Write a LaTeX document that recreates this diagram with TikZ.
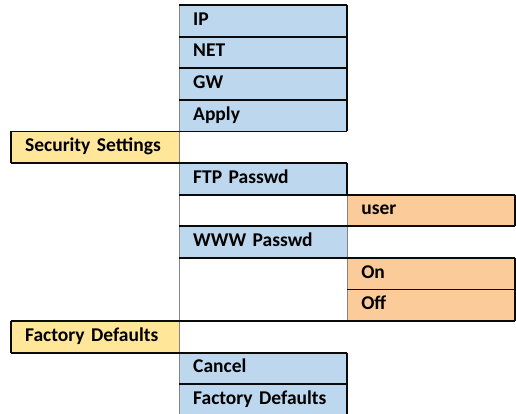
\documentclass[tikz,border=0pt]{standalone}
\usepackage{fontspec}
\setmainfont{Carlito}
\usetikzlibrary{positioning}
\definecolor{cellblue}{HTML}{BDD7EE}
\definecolor{cellyellow}{HTML}{FFE699}
\definecolor{cellorange}{HTML}{FCCB9A}
\definecolor{lineblack}{HTML}{0A0A0A}
\definecolor{linegrey}{HTML}{858585}
\tikzset{
  cell/.style = {minimum height=31.2pt, text width=139.7pt, inner xsep=14pt, inner ysep=0pt,
                 align=left, text height=13pt, text depth=4pt,
                 font=\fontsize{19.5}{21}\selectfont\bfseries},
  menu/.style = {cell, fill=cellyellow},
  item/.style = {cell, fill=cellblue},
  value/.style = {cell, fill=cellorange},
  border/.style = {draw=lineblack, line width=1.8pt},
  hair/.style = {draw=linegrey, line width=1pt}
}
\begin{document}
\begin{tikzpicture}[node distance=0pt]
	\useasboundingbox (0,0) rectangle (516pt,-413pt);
	%Network items
	\node[item, anchor=north west] (ip) at (179pt,-5pt) {IP};
	\node[item] (net) [below=of ip] {NET};
	\node[item] (gw) [below=of net] {GW};
	\node[item] (apply) [below=of gw] {Apply};
	%Security part
	\node[menu] (sec) [below left=0pt and 0pt of apply.south west] {Security Settings};
	\node[item] (ftp) [below right=0pt and 0pt of sec.south east] {FTP Passwd};
	\node[value] (user) [below right=0pt and 0pt of ftp.south east] {user};
	\node[item] (www) [below left=0pt and 0pt of user.south west] {WWW Passwd};
	\node[value] (on) [below right=0pt and 0pt of www.south east] {On};
	\node[value] (off) [below=of on] {Off};
	%Factory part
	\node[menu, anchor=north west] (fd) at (sec.west |- off.south) {Factory Defaults};
	\node[item] (cancel) [below right=0pt and 0pt of fd.south east] {Cancel};
	\node[item] (fdok) [below=of cancel] {Factory Defaults};

	%Thin grey cell edges
	\draw[hair] (ip.north west) -- (fdok.south west); %Column B left
	\draw[hair] (user.north west) -- (off.south west); %Column C left
	\draw[hair] (www.north east) -- (www.south east); %WWW right

	%Black cell edges
	\draw[border] (ip.north west) -- (ip.north east); %IP top
	\draw[border] (ip.north east) -- (apply.south east); %Network right
	\draw[border] (net.north west) -- (net.north east); %IP / NET
	\draw[border] (gw.north west) -- (gw.north east); %NET / GW
	\draw[border] (apply.north west) -- (apply.north east); %GW / Apply
	\draw[border] (sec.north west) -- (apply.south east); %Apply / Security top
	\draw[border] (sec.north west) -- (sec.south west); %Security left
	\draw[border] (sec.south west) -- (ftp.north east); %Security / FTP
	\draw[border] (ftp.north east) -- (ftp.south east); %FTP right
	\draw[border] (ftp.south west) -- (user.north east); %FTP / user
	\draw[border] (user.north east) -- (user.south east); %user right
	\draw[border] (www.north west) -- (user.south east); %user / WWW
	\draw[border] (www.south west) -- (on.north east); %WWW / On
	\draw[border] (on.north east) -- (off.south east); %On / Off right
	\draw[border] (off.north west) -- (off.north east); %On / Off split
	\draw[border] (fd.north west) -- (off.south east); %Off / Factory top
	\draw[border] (fd.north west) -- (fd.south west); %Factory left
	\draw[border] (fd.south west) -- (cancel.north east); %Factory / Cancel
	\draw[border] (cancel.north east) -- (fdok.south east); %Factory items right
	\draw[border] (fdok.north west) -- (fdok.north east); %Cancel / Factory Defaults
	\draw[border] (fdok.south west) -- (fdok.south east); %Factory items bottom
\end{tikzpicture}
\end{document}
